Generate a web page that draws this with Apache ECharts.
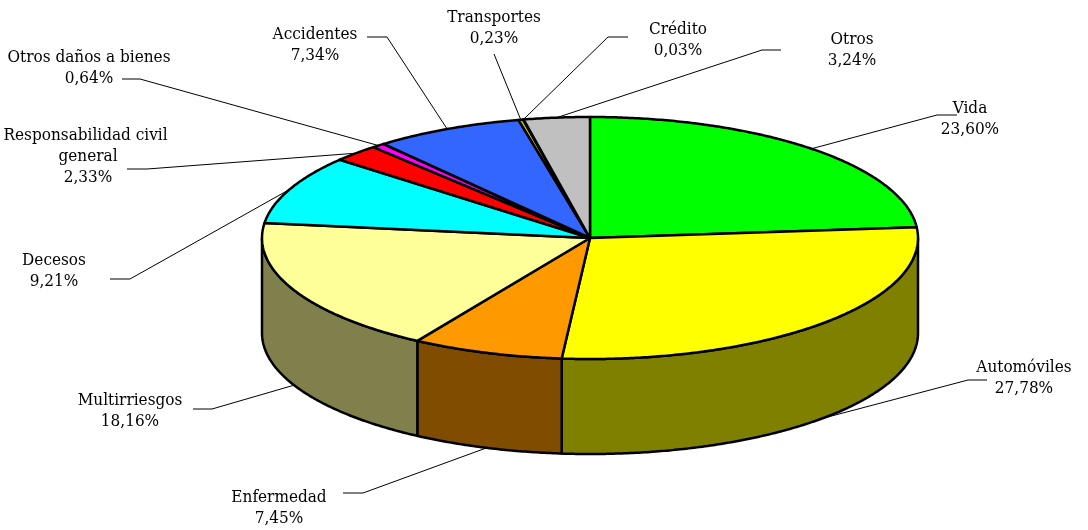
<!DOCTYPE html>
<html>
<head>
<meta charset="utf-8">
<script src="https://cdn.jsdelivr.net/npm/echarts@6/dist/echarts.min.js"></script>
<style>
  html, body { margin: 0; background: #fff; }
  #chart { width: 1088px; height: 530px; }
</style>
</head>
<body>
<div id="chart"></div>
<script>
// ramos de seguro, % de primas
const names = ['Vida', 'Automóviles', 'Enfermedad', 'Multirriesgos', 'Decesos',
  'Responsabilidad civil general', 'Otros daños a bienes', 'Accidentes',
  'Transportes', 'Crédito', 'Otros'];
const values = [23.60, 27.78, 7.45, 18.16, 9.21, 2.33, 0.64, 7.34, 0.23, 0.03, 3.24];
const topColors = ['#00ff00', '#ffff00', '#ff9900', '#ffff99', '#00ffff', '#ff0000',
  '#ff00ff', '#3366ff', '#cccc00', '#808000', '#c0c0c0'];
const sideColors = ['#008000', '#808000', '#804c00', '#80804c', '#008080', '#800000',
  '#800080', '#1a3380', '#666600', '#404000', '#606060'];

// geometria del pastel 3D
const pie = { cx: 590, cy: 238, rx: 328, ry: 121, depth: 95 };
const FONT = '17px "DejaVu Serif Condensed", "DejaVu Serif", serif';

// posicion de etiquetas: centro del texto, codo y fin de la linea guia
const labelLayout = [
  { text: [970, 119], elbow: [937, 115], end: [957, 115] },
  { text: [1024, 378], elbow: [968, 380], end: [987, 380] },
  { text: [279, 508], elbow: [363, 493], end: [343, 493] },
  { text: [130, 411], elbow: [212, 409], end: [193, 409] },
  { text: [54, 271], elbow: [130, 279], end: [110, 279] },
  { text: [88, 157], elbow: [147, 169], end: [127, 169], width: 170 },
  { text: [89, 68], elbow: [140, 79], end: [122, 79] },
  { text: [315, 45], elbow: [387, 37], end: [367, 37] },
  { text: [494, 28], elbow: [494, 54], end: [494, 54] },
  { text: [678, 40], elbow: [608, 37], end: [628, 37] },
  { text: [852, 50], elbow: [762, 50], end: [781, 50] }
];

const total = values.reduce((a, b) => a + b, 0);
const starts = [];
values.reduce((acc, v, i) => { starts[i] = acc; return acc + v; }, 0);

// angulo en grados, 0 = arriba, sentido horario
function pt(deg, dy) {
  const t = deg * Math.PI / 180;
  return [pie.cx + pie.rx * Math.sin(t), pie.cy - pie.ry * Math.cos(t) + (dy || 0)];
}
function arc(a0, a1, dy) {
  const pts = [];
  const n = Math.max(2, Math.ceil((a1 - a0) / 0.5));
  for (let k = 0; k <= n; k++) pts.push(pt(a0 + (a1 - a0) * k / n, dy));
  return pts;
}
function range(i) {
  const a0 = starts[i] / total * 360;
  return [a0, a0 + values[i] / total * 360];
}
function fmt(v) { return v.toFixed(2).replace('.', ',') + '%'; }

const data = values.map((v, i) => [i, v]);

function renderSide(params, api) {
  const i = api.value(0);
  const [a0, a1] = range(i);
  const lo = Math.max(a0, 90), hi = Math.min(a1, 270);
  if (lo >= hi) return { type: 'group', children: [] };
  const pts = arc(lo, hi, 0).concat(arc(lo, hi, pie.depth).reverse());
  return {
    type: 'polygon',
    shape: { points: pts },
    style: { fill: sideColors[i], stroke: '#000', lineWidth: 2.5, lineJoin: 'round' }
  };
}

function renderTop(params, api) {
  const i = api.value(0);
  const [a0, a1] = range(i);
  const pts = [[pie.cx, pie.cy]].concat(arc(a0, a1, 0));
  return {
    type: 'polygon',
    shape: { points: pts },
    style: { fill: topColors[i], stroke: '#000', lineWidth: 2.5, lineJoin: 'round' }
  };
}

function renderLabel(params, api) {
  const i = api.value(0);
  const [a0, a1] = range(i);
  const mid = (a0 + a1) / 2;
  const front = mid > 90 && mid < 270;
  const anchor = pt(mid, front ? pie.depth : 0);
  const L = labelLayout[i];
  const style = {
    text: names[i] + '\n' + fmt(api.value(1)),
    font: FONT, fill: '#000', lineHeight: 21,
    align: 'center', verticalAlign: 'middle',
    textAlign: 'center', textVerticalAlign: 'middle'
  };
  if (L.width) { style.width = L.width; style.overflow = 'break'; }
  return {
    type: 'group',
    children: [
      {
        type: 'polyline',
        shape: { points: [anchor, L.elbow, L.end] },
        style: { stroke: '#000', lineWidth: 1, fill: null }
      },
      { type: 'text', x: L.text[0], y: L.text[1], style: style }
    ]
  };
}

const chart = echarts.init(document.getElementById('chart'));
chart.setOption({
  animation: false,
  backgroundColor: '#fff',
  series: [
    { type: 'custom', coordinateSystem: 'none', z: 1, data: data, renderItem: renderSide },
    { type: 'custom', coordinateSystem: 'none', z: 2, data: data, renderItem: renderTop },
    { type: 'custom', coordinateSystem: 'none', z: 3, data: data, renderItem: renderLabel }
  ]
});
</script>
</body>
</html>
